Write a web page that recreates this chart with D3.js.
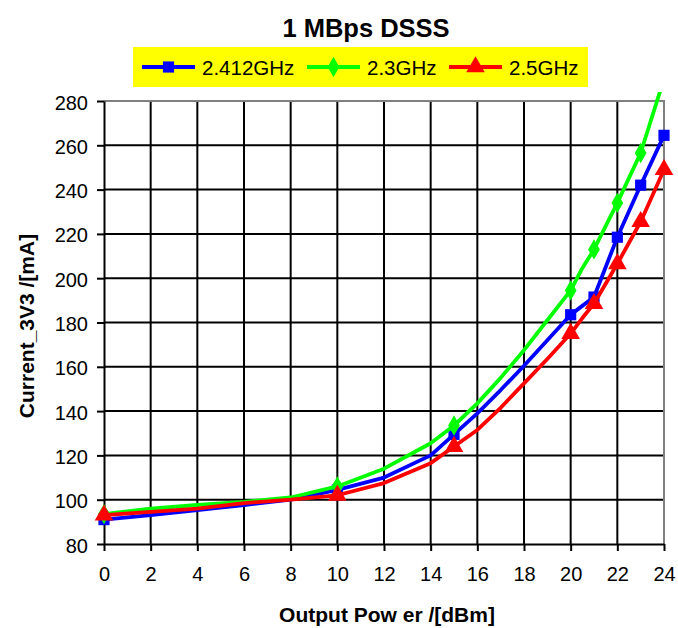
<!DOCTYPE html>
<html>
<head>
<meta charset="utf-8">
<script src="https://cdn.jsdelivr.net/npm/d3@7"></script>
<style>
  body { margin: 0; background: #fff; }
  text { font-family: "Liberation Sans", Arial, sans-serif; }
</style>
</head>
<body>
<svg id="chart" width="678" height="628"></svg>
<script>
// output power (dBm) sampled along the curves
var power = [0, 2, 4, 6, 8, 10, 12, 14, 15, 16, 17, 18, 19, 20, 20.5, 21, 22, 23, 24];
// which samples carry a marker
var marked = [0, 10, 15, 20, 21, 22, 23, 24];

var cur2412 = [91, 93, 95.3, 97.6, 100, 104.4, 110, 120, 129.5, 139, 149.5, 160.5, 172, 183.5, 187.5, 191.5, 218.5, 242, 264.5];
var cur23   = [93.5, 96, 97.6, 99, 101, 106, 114, 125.5, 133.5, 143.5, 155, 167.5, 181, 194.5, 204.5, 213, 234, 256.5, 290];
var cur25   = [93, 94.5, 96, 98.5, 100, 102, 107.5, 116.5, 124, 131.5, 141.5, 152.5, 163.5, 175, 182, 188.5, 206.5, 225.5, 249];

var seriesNames = ["2.412GHz", "2.3GHz", "2.5GHz"];
var seriesColors = ["#0000ff", "#00ff00", "#ff0000"];
var seriesShapes = [d3.symbolSquare, d3.symbolDiamond, d3.symbolTriangle];
var markerSizes = [125, 120, 150];

var xTicks = d3.range(0, 25, 2);
var yTicks = d3.range(80, 281, 20);

var svg = d3.select("#chart"),
  margin = { top: 101, right: 14, bottom: 84, left: 104 },
  width = +svg.attr("width") - margin.left - margin.right,
  height = +svg.attr("height") - margin.top - margin.bottom,
  g = svg.append("g").attr("transform", "translate(" + margin.left + "," + margin.top + ")");

var x = d3.scaleLinear().domain([0, 24]).range([0, width]);
var y = d3.scaleLinear().domain([80, 280]).range([height, 0]);

// grid
g.append("g").selectAll("line").data(xTicks.slice(1, -1)).enter().append("line")
  .attr("x1", d => x(d)).attr("x2", d => x(d))
  .attr("y1", 0).attr("y2", height)
  .attr("stroke", "#000").attr("stroke-width", 2);
g.append("g").selectAll("line").data(yTicks.slice(1, -1)).enter().append("line")
  .attr("x1", 0).attr("x2", width)
  .attr("y1", d => y(d)).attr("y2", d => y(d))
  .attr("stroke", "#000").attr("stroke-width", 2);

// top and right border
g.append("path")
  .attr("d", "M0,0H" + width + "V" + height)
  .attr("fill", "none").attr("stroke", "#808080").attr("stroke-width", 2);

// axes
var xAxis = g.append("g")
  .attr("transform", "translate(0," + height + ")")
  .call(d3.axisBottom(x).tickValues(xTicks).tickSize(7).tickPadding(16).tickSizeOuter(0));
var yAxis = g.append("g")
  .call(d3.axisLeft(y).tickValues(yTicks).tickSize(7).tickPadding(9).tickSizeOuter(0));
[xAxis, yAxis].forEach(function(a) {
  a.select(".domain").attr("stroke", "#000").attr("stroke-width", 2);
  a.selectAll(".tick line").attr("stroke", "#000").attr("stroke-width", 2);
  a.selectAll(".tick text").attr("fill", "#000").style("font-size", "20px")
    .style("font-family", "'Liberation Sans', Arial, sans-serif");
});
yAxis.selectAll(".tick text").attr("dy", "0.4em");

// clip (line may run a little above the plot area)
svg.append("clipPath").attr("id", "clip").append("rect")
  .attr("x", -10).attr("y", -9).attr("width", width + 24).attr("height", height + 20);

var line = d3.line()
  .x(d => x(d[0]))
  .y(d => y(d[1]));

var allSeries = [cur2412, cur23, cur25];
var plot = g.append("g").attr("clip-path", "url(#clip)");

allSeries.forEach(function(vals, i) {
  var pts = power.map((p, k) => [p, vals[k]]);
  plot.append("path")
    .attr("d", line(pts))
    .attr("fill", "none")
    .attr("stroke", seriesColors[i])
    .attr("stroke-width", 3.8)
    .attr("stroke-linejoin", "round");
  plot.selectAll(".m" + i)
    .data(pts.filter(d => marked.indexOf(d[0]) >= 0 && d[1] <= 280))
    .enter().append("path")
    .attr("transform", d => "translate(" + x(d[0]) + "," + y(d[1]) + ")")
    .attr("d", d3.symbol().type(seriesShapes[i]).size(markerSizes[i]))
    .attr("fill", seriesColors[i]);
});

// title
svg.append("text")
  .attr("x", 366).attr("y", 37)
  .attr("text-anchor", "middle")
  .style("font-size", "25.5px").style("font-weight", "bold")
  .text("1 MBps DSSS");

// legend
var lg = svg.append("g");
lg.append("rect").attr("x", 133).attr("y", 47).attr("width", 455).attr("height", 40).attr("fill", "#ffff00");
var legendX = [142, 307, 449];
seriesNames.forEach(function(name, i) {
  var lx = legendX[i], ly = 67;
  lg.append("line").attr("x1", lx).attr("x2", lx + 53).attr("y1", ly).attr("y2", ly)
    .attr("stroke", seriesColors[i]).attr("stroke-width", 3.8);
  lg.append("path").attr("transform", "translate(" + (lx + 26.5) + "," + ly + ")")
    .attr("d", d3.symbol().type(seriesShapes[i]).size(markerSizes[i]))
    .attr("fill", seriesColors[i]);
  lg.append("text").attr("x", lx + 60).attr("y", ly + 8)
    .style("font-size", "20.5px").text(name);
});

// axis titles
svg.append("text")
  .attr("x", 387).attr("y", 622)
  .attr("text-anchor", "middle")
  .style("font-size", "21px").style("font-weight", "bold")
  .text("Output Pow er /[dBm]");
svg.append("text")
  .attr("transform", "translate(34,326) rotate(-90)")
  .attr("text-anchor", "middle")
  .style("font-size", "21px").style("font-weight", "bold")
  .text("Current_3V3 /[mA]");
</script>
</body>
</html>
